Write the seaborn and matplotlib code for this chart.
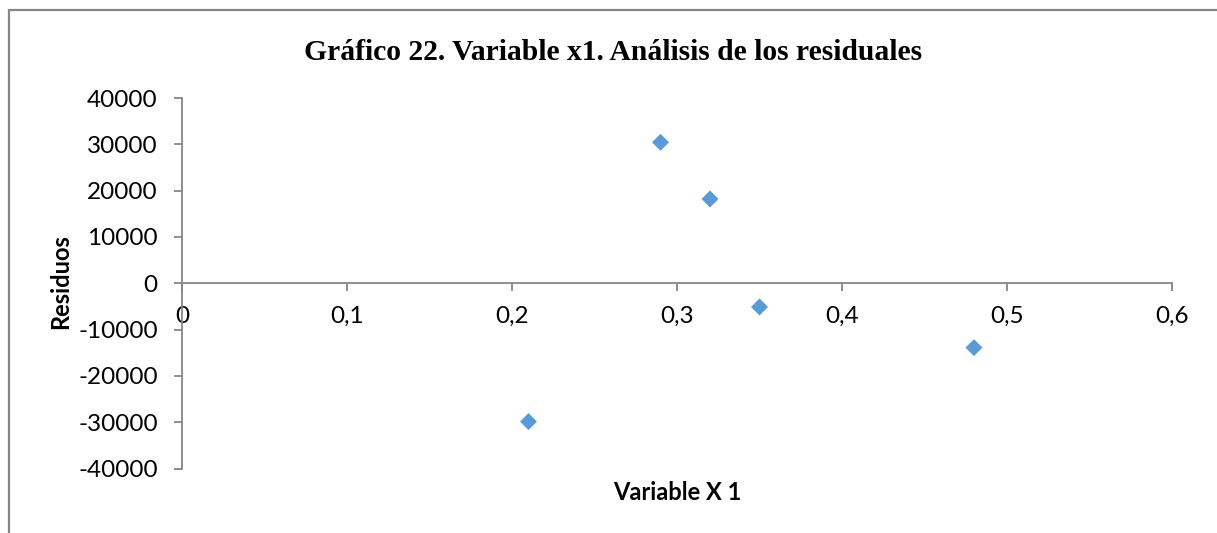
import matplotlib
matplotlib.use("Agg")
import matplotlib.pyplot as plt
import seaborn as sns
import pandas as pd
from matplotlib.ticker import FuncFormatter, MultipleLocator
from matplotlib.patches import Rectangle

x_values = [0.21, 0.29, 0.32, 0.35, 0.48]
residuals = [-29870, 30430, 18200, -5120, -13900]
title = "Gráfico 22. Variable x1. Análisis de los residuales"
x_label = "Variable X 1"
y_label = "Residuos"

df = pd.DataFrame({"x": x_values, "r": residuals})

sns.set_theme(style="white")
plt.rcParams['font.family'] = ['Lato', 'DejaVu Sans']
plt.rcParams['text.color'] = 'black'

W, H = 1217, 533
fig = plt.figure(figsize=(W / 100, H / 100), dpi=100)
ax = fig.add_axes([182 / W, 1 - 468.5 / H, (1172 - 182) / W, (468.5 - 98) / H])

sns.scatterplot(data=df, x="x", y="r", ax=ax, marker="D", s=75,
                color="#5B9BD5", edgecolor="none", linewidth=0, zorder=3)

ax.set_xlim(0, 0.6)
ax.set_ylim(-40000, 40000)
ax.xaxis.set_major_locator(MultipleLocator(0.1))
ax.yaxis.set_major_locator(MultipleLocator(10000))
ax.xaxis.set_major_formatter(FuncFormatter(lambda v, p: ("%g" % round(v, 1)).replace(".", ",")))
ax.yaxis.set_major_formatter(FuncFormatter(lambda v, p: "%d" % v))

gray = "#868686"
for s in ["top", "right"]:
    ax.spines[s].set_visible(False)
ax.spines["bottom"].set_position(("data", 0))
for s in ["bottom", "left"]:
    ax.spines[s].set_color(gray)
    ax.spines[s].set_linewidth(1.3)

ax.tick_params(axis="both", which="major", direction="out", length=5.5, width=1.3,
               color=gray, labelsize=17.5, labelcolor="black")
ax.tick_params(axis="x", pad=11, bottom=True)
ax.tick_params(axis="y", pad=12, left=True)
ax.grid(False)
ax.set_xlabel("")
ax.set_ylabel("")

fig.text(677 / W, 1 - 493 / H, x_label, ha="center", va="center", color="black",
         fontsize=17, fontweight="bold", family=["Lato", "DejaVu Sans"])
fig.text(61 / W, 1 - 282 / H, y_label, ha="center", va="center", rotation=90, color="black",
         fontsize=17, fontweight="bold", family=["Lato", "DejaVu Sans"])
fig.text(613 / W, 1 - 52 / H, title, ha="center", va="center", color="black",
         fontsize=21.3, fontweight="bold", family=["Liberation Serif", "DejaVu Serif"])

fig.patches.append(Rectangle((9 / W, -0.1), 1.2, 1 - 10 / H + 0.1, transform=fig.transFigure,
                             fill=False, edgecolor=gray, linewidth=1.6))

fig.savefig("out.png", dpi=100, facecolor="white")
